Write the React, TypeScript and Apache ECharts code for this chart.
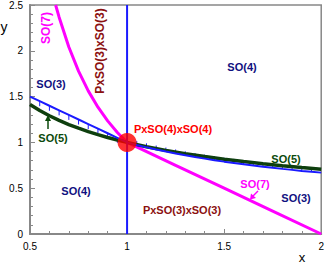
import React, { useEffect, useRef } from "react";
import * as echarts from "echarts";

const xTicks = [0.5, 1, 1.5, 2];
const yTicks = [0, 0.5, 1, 1.5, 2, 2.5];

// SO(5) curve (dark green)
const so5: [number, number][] = [
  [0.5, 1.414], [0.55, 1.348], [0.6, 1.291], [0.65, 1.240], [0.7, 1.195], [0.75, 1.155],
  [0.8, 1.118], [0.85, 1.085], [0.9, 1.054], [0.95, 1.026], [1, 1], [1.1, 0.953],
  [1.2, 0.913], [1.3, 0.877], [1.4, 0.845], [1.5, 0.816], [1.6, 0.791], [1.7, 0.767],
  [1.8, 0.745], [1.9, 0.725], [2, 0.707],
];

// SO(3) boundary (blue, hatched)
const so3: [number, number][] = [
  [0.5, 1.5], [0.55, 1.45], [0.6, 1.4], [0.65, 1.35], [0.7, 1.3], [0.75, 1.25],
  [0.8, 1.2], [0.85, 1.15], [0.9, 1.1], [0.95, 1.05], [1, 1], [1.05, 0.972],
  [1.1, 0.946], [1.15, 0.922], [1.2, 0.9], [1.25, 0.879], [1.3, 0.859], [1.35, 0.84],
  [1.4, 0.823], [1.45, 0.806], [1.5, 0.79], [1.55, 0.776], [1.6, 0.762], [1.65, 0.748],
  [1.7, 0.735], [1.75, 0.723], [1.8, 0.711], [1.85, 0.7], [1.9, 0.689], [1.95, 0.679],
  [2, 0.67],
];

// SO(7) curve (magenta)
const so7: [number, number][] = [
  [0.632, 2.5], [0.65, 2.367], [0.7, 2.041], [0.75, 1.778], [0.8, 1.5625], [0.85, 1.384],
  [0.9, 1.235], [0.95, 1.108], [1, 1], [1.25, 0.75], [1.5, 0.5], [1.75, 0.25], [2, 0],
];

// vertical boundary x = 1
const vline: [number, number][] = [[1, 0], [1, 2.5]];
const critical: [number, number][] = [[1, 1]];

const labels = [
  { text: "SO(7)", x: 46, y: 28, color: "#ff00ff", rot: true, size: 12 },
  { text: "PxSO(3)xSO(3)", x: 100, y: 51, color: "#8b1010", rot: true, size: 12 },
  { text: "SO(3)", x: 51, y: 84, color: "#101080", rot: false, size: 11 },
  { text: "SO(4)", x: 242, y: 67, color: "#101080", rot: false, size: 11 },
  { text: "PxSO(4)xSO(4)", x: 173, y: 129, color: "#ff0000", rot: false, size: 11 },
  { text: "SO(5)", x: 53, y: 138, color: "#0b4a0b", rot: false, size: 11 },
  { text: "SO(4)", x: 76, y: 191, color: "#101080", rot: false, size: 11 },
  { text: "PxSO(3)xSO(3)", x: 182, y: 210, color: "#8b1010", rot: false, size: 11 },
  { text: "SO(5)", x: 286, y: 159, color: "#0b4a0b", rot: false, size: 11 },
  { text: "SO(7)", x: 255, y: 184, color: "#ff00ff", rot: false, size: 11 },
  { text: "SO(3)", x: 296, y: 198, color: "#101080", rot: false, size: 11 },
];

export default function App() {
  const ref = useRef<HTMLDivElement>(null);
  useEffect(() => {
    if (!ref.current) return;
    const chart = echarts.init(ref.current, null, { renderer: "svg" });
    const font = "'Liberation Sans', Arial, sans-serif";
    const axisGray = "#888888";
    const graphic: any[] = labels.map((l) => ({
      type: "text",
      x: l.x,
      y: l.y,
      rotation: l.rot ? Math.PI / 2 : 0,
      z: 100,
      style: {
        text: l.text,
        fill: l.color,
        font: `bold ${l.size}px ${font}`,
        textAlign: "center",
        textVerticalAlign: "middle",
      },
    }));
    // arrows
    graphic.push(
      { type: "line", z: 100, shape: { x1: 48, y1: 129, x2: 48, y2: 120 }, style: { stroke: "#0b4a0b", lineWidth: 1.5 } },
      { type: "polygon", z: 100, shape: { points: [[48, 115], [45, 121], [51, 121]] }, style: { fill: "#0b4a0b" } },
      { type: "line", z: 100, shape: { x1: 258, y1: 191, x2: 253, y2: 196 }, style: { stroke: "#ff00ff", lineWidth: 1.5 } },
      { type: "polygon", z: 100, shape: { points: [[250, 199.5], [251, 193.5], [256, 198]] }, style: { fill: "#ff00ff" } },
      { type: "text", x: 4, y: 27, style: { text: "y", fill: "#000", font: `14px ${font}`, textAlign: "center", textVerticalAlign: "middle" } },
      { type: "text", x: 302, y: 257, style: { text: "x", fill: "#000", font: `13px ${font}`, textAlign: "center", textVerticalAlign: "middle" } }
    );

    chart.setOption({
      animation: false,
      backgroundColor: "#ffffff",
      grid: { left: 30, right: 4, top: 5, bottom: 33, show: true, borderColor: axisGray, borderWidth: 1.5, backgroundColor: "transparent" },
      xAxis: {
        type: "value",
        min: xTicks[0],
        max: xTicks[xTicks.length - 1],
        interval: 0.5,
        axisLine: { show: true, onZero: false, lineStyle: { color: axisGray, width: 2 } },
        axisTick: { show: true, inside: true, length: 5, lineStyle: { color: axisGray } },
        minorTick: { show: true, splitNumber: 5, length: 3, lineStyle: { color: axisGray } },
        splitLine: { show: false },
        axisLabel: { color: "#000", fontSize: 10, fontFamily: font, margin: 7, formatter: (v: number) => String(v) },
      },
      yAxis: {
        type: "value",
        min: yTicks[0],
        max: yTicks[yTicks.length - 1],
        interval: 0.5,
        axisLine: { show: true, onZero: false, lineStyle: { color: axisGray, width: 2 } },
        axisTick: { show: true, inside: true, length: 5, lineStyle: { color: axisGray } },
        minorTick: { show: true, splitNumber: 5, length: 3, lineStyle: { color: axisGray } },
        splitLine: { show: false },
        axisLabel: { color: "#000", fontSize: 10, fontFamily: font, margin: 7, formatter: (v: number) => String(v) },
      },
      series: [
        {
          type: "custom",
          z: 2,
          data: so3.slice(1, so3.length - 1),
          renderItem: (params: any, api: any) => {
            const xv = api.value(0);
            const p = api.coord([xv, api.value(1)]);
            const dir = xv < 1 ? 1 : -1;
            const len = xv < 1 ? 5 : 4;
            return {
              type: "line",
              shape: { x1: p[0], y1: p[1], x2: p[0], y2: p[1] + dir * len },
              style: { stroke: "#1a1aff", lineWidth: 1 },
            };
          },
        },
        { type: "line", z: 3, data: so7, symbol: "none", smooth: false, lineStyle: { color: "#ff00ff", width: 3 } },
        { type: "line", z: 4, data: so5, symbol: "none", lineStyle: { color: "#0e3f0e", width: 3.5 } },
        { type: "line", z: 5, data: so3, symbol: "none", lineStyle: { color: "#1a1aff", width: 2 } },
        { type: "line", z: 6, data: vline, symbol: "none", lineStyle: { color: "#1a1aff", width: 2 } },
        { type: "scatter", z: 7, data: critical, symbolSize: 19, itemStyle: { color: "#ff0000" } },
      ],
      graphic,
    });
    return () => chart.dispose();
  }, []);
  return <div ref={ref} style={{ width: 327, height: 267, position: "absolute", left: 0, top: 0 }} />;
}
